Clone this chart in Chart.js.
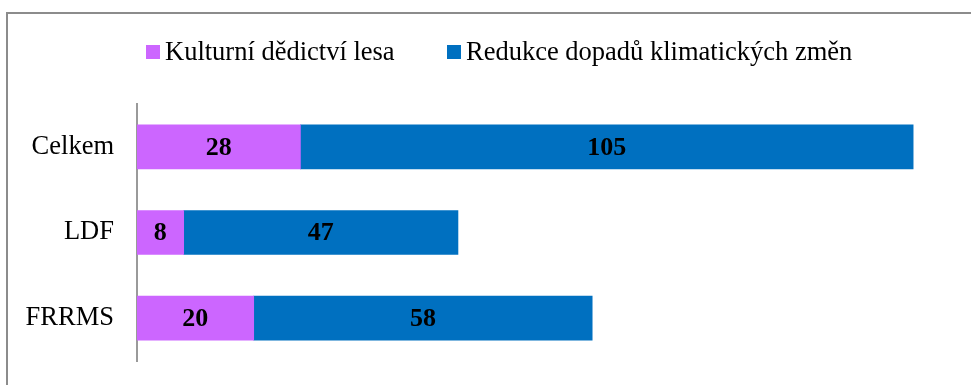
<!DOCTYPE html>
<html>
<head>
<meta charset="utf-8">
<script src="https://cdn.jsdelivr.net/npm/chart.js@4.4.1/dist/chart.umd.min.js"></script>
<style>
  html, body { margin: 0; padding: 0; background: #fff; overflow: hidden; }
  #ramec { position: absolute; left: 6px; top: 12px; width: 1000px; height: 400px; border: 2px solid #8c8c8c; }
  #obal { position: absolute; left: 0; top: 0; width: 971px; height: 385px; }
</style>
</head>
<body>
<div id="ramec"></div>
<div id="obal"><canvas id="graf"></canvas></div>
<script>
// Data grafu
const kategorie = ['Celkem', 'LDF', 'FRRMS'];
const kulturniDedictvi = [28, 8, 20];
const redukceDopadu = [105, 47, 58];
const popiskySerii = ['Kulturní dědictví lesa', 'Redukce dopadů klimatických změn'];

const pismo = '"Liberation Serif", "Times New Roman", serif';

// Hodnoty uprostřed segmentů
const popiskyHodnot = {
    id: 'popiskyHodnot',
    afterDatasetsDraw(chart) {
        const ctx = chart.ctx;
        ctx.save();
        ctx.font = 'bold 26px ' + pismo;
        ctx.fillStyle = '#000';
        ctx.textAlign = 'center';
        ctx.textBaseline = 'middle';
        chart.data.datasets.forEach((ds, i) => {
            chart.getDatasetMeta(i).data.forEach((bar, j) => {
                const p = bar.getProps(['x', 'y', 'base'], true);
                ctx.fillText(ds.data[j], (p.x + p.base) / 2, p.y + 1);
            });
        });
        ctx.restore();
    }
};

// Legenda nahoře
const legendaNahore = {
    id: 'legendaNahore',
    afterDraw(chart) {
        const ctx = chart.ctx;
        const pozice = [146, 447];
        ctx.save();
        ctx.font = '26.5px ' + pismo;
        ctx.textBaseline = 'middle';
        chart.data.datasets.forEach((ds, i) => {
            ctx.fillStyle = ds.backgroundColor;
            ctx.fillRect(pozice[i], 45, 14, 14);
            ctx.fillStyle = '#000';
            ctx.fillText(ds.label, pozice[i] + 19, 53);
        });
        ctx.restore();
    }
};

new Chart(document.getElementById('graf'), {
    type: 'bar',
    data: {
        labels: kategorie,
        datasets: [
            { label: popiskySerii[0], data: kulturniDedictvi, backgroundColor: '#CC66FF' },
            { label: popiskySerii[1], data: redukceDopadu, backgroundColor: '#0070C0' }
        ]
    },
    options: {
        indexAxis: 'y',
        responsive: true,
        maintainAspectRatio: false,
        animation: false,
        barThickness: 44,
        layout: { padding: { top: 104, bottom: 24, left: 0, right: 17 } },
        plugins: { legend: { display: false }, tooltip: { enabled: false } },
        scales: {
            x: { stacked: true, display: false, min: 0, max: 140 },
            y: {
                stacked: true,
                grid: { display: false },
                border: { display: true, color: '#9a9a9a', width: 2 },
                ticks: { color: '#000', padding: 15, font: { family: pismo, size: 26.5 } },
                afterFit(scale) {
                    scale.width = 137;
                    scale.paddingTop = 0;
                    scale.paddingBottom = 0;
                }
            }
        }
    },
    plugins: [popiskyHodnot, legendaNahore]
});
</script>
</body>
</html>
